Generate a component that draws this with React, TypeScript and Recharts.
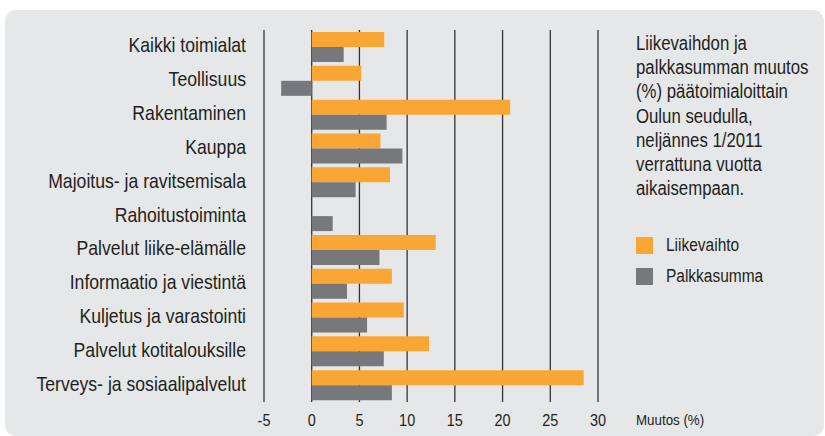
import { BarChart, Bar, XAxis, YAxis, CartesianGrid } from 'recharts';

const categories = [
  'Kaikki toimialat',
  'Teollisuus',
  'Rakentaminen',
  'Kauppa',
  'Majoitus- ja ravitsemisala',
  'Rahoitustoiminta',
  'Palvelut liike-elämälle',
  'Informaatio ja viestintä',
  'Kuljetus ja varastointi',
  'Palvelut kotitalouksille',
  'Terveys- ja sosiaalipalvelut',
];
const liikevaihto = [7.6, 5.2, 20.8, 7.2, 8.2, null, 13.0, 8.4, 9.65, 12.3, 28.5];
const palkkasumma = [3.35, -3.2, 7.85, 9.5, 4.6, 2.2, 7.1, 3.7, 5.8, 7.55, 8.4];
const xTicks = [-5, 0, 5, 10, 15, 20, 25, 30];
const titleLines = [
  'Liikevaihdon ja',
  'palkkasumman muutos',
  '(%) päätoimialoittain',
  'Oulun seudulla,',
  'neljännes 1/2011',
  'verrattuna vuotta',
  'aikaisempaan.',
];

const data = categories.map((name, i) => ({
  name,
  Liikevaihto: liikevaihto[i],
  Palkkasumma: palkkasumma[i],
}));

// no condensed font installed, so squeeze Liberation Sans horizontally
const FONT = '"Liberation Sans", Arial, sans-serif';
const SQUEEZE = 0.86;
const TEXT = '#231f20';
const ORANGE = '#f9a634';
const GRAY = '#77787b';

function CategoryTick(props: any) {
  const { x, y, payload } = props;
  return (
    <g transform={`translate(${x},${y})`}>
      <text transform={`scale(${SQUEEZE},1)`} textAnchor="end" dy={5.5} fontFamily={FONT} fontSize={20.5} fill={TEXT}>
        {payload.value}
      </text>
    </g>
  );
}

function ValueTick(props: any) {
  const { x, y, payload } = props;
  return (
    <g transform={`translate(${x},${y})`}>
      <text transform={`scale(${SQUEEZE},1)`} textAnchor="middle" dy={18} fontFamily={FONT} fontSize={16.8} fill={TEXT}>
        {payload.value}
      </text>
    </g>
  );
}

const squeezed = { transform: `scaleX(${SQUEEZE})`, transformOrigin: 'left', whiteSpace: 'nowrap' as const };

export default function App() {
  const legend = [
    { label: 'Liikevaihto', color: ORANGE },
    { label: 'Palkkasumma', color: GRAY },
  ];
  return (
    <div style={{ position: 'fixed', left: 0, top: 0, width: 825, height: 436, background: '#fff', overflow: 'hidden' }}>
      <div
        style={{
          position: 'absolute',
          left: 5,
          top: 10,
          width: 819,
          height: 426,
          background: '#e6e7e8',
          borderRadius: 11,
        }}
      />
      <div style={{ position: 'absolute', left: 636, top: 31, fontFamily: FONT, fontSize: 19.5, lineHeight: '24.2px', color: TEXT }}>
        {titleLines.map((l) => (
          <div key={l} style={squeezed}>{l}</div>
        ))}
      </div>
      {legend.map((it, i) => (
        <div key={it.label} style={{ position: 'absolute', left: 636, top: 237 + i * 30.5, height: 17, display: 'flex', alignItems: 'center' }}>
          <span style={{ width: 17, height: 17, background: it.color, display: 'inline-block', marginRight: 13 }} />
          <span style={{ ...squeezed, fontFamily: FONT, fontSize: 18, color: TEXT }}>{it.label}</span>
        </div>
      ))}
      <div style={{ position: 'absolute', left: 636, top: 411.5, fontFamily: FONT, fontSize: 15.5, lineHeight: '16px', color: TEXT, ...squeezed }}>
        Muutos (%)
      </div>
      <div style={{ position: 'absolute', left: 0, top: 0 }}>
        <BarChart
          width={825}
          height={436}
          data={data}
          layout="vertical"
          margin={{ top: 30, right: 227, bottom: 4, left: 0 }}
          barCategoryGap={2}
          barGap={0}
        >
          <CartesianGrid horizontal={false} stroke="#333" strokeWidth={1.3} />
          <XAxis
            type="number"
            domain={[-5, 30]}
            ticks={xTicks}
            height={30}
            axisLine={false}
            tickLine={false}
            tickMargin={0}
            tick={<ValueTick />}
          />
          <YAxis
            type="category"
            dataKey="name"
            width={264}
            axisLine={false}
            tickLine={false}
            tickMargin={12}
            interval={0}
            tick={<CategoryTick />}
          />
          <Bar dataKey="Liikevaihto" fill={ORANGE} isAnimationActive={false} />
          <Bar dataKey="Palkkasumma" fill={GRAY} isAnimationActive={false} />
        </BarChart>
      </div>
    </div>
  );
}
